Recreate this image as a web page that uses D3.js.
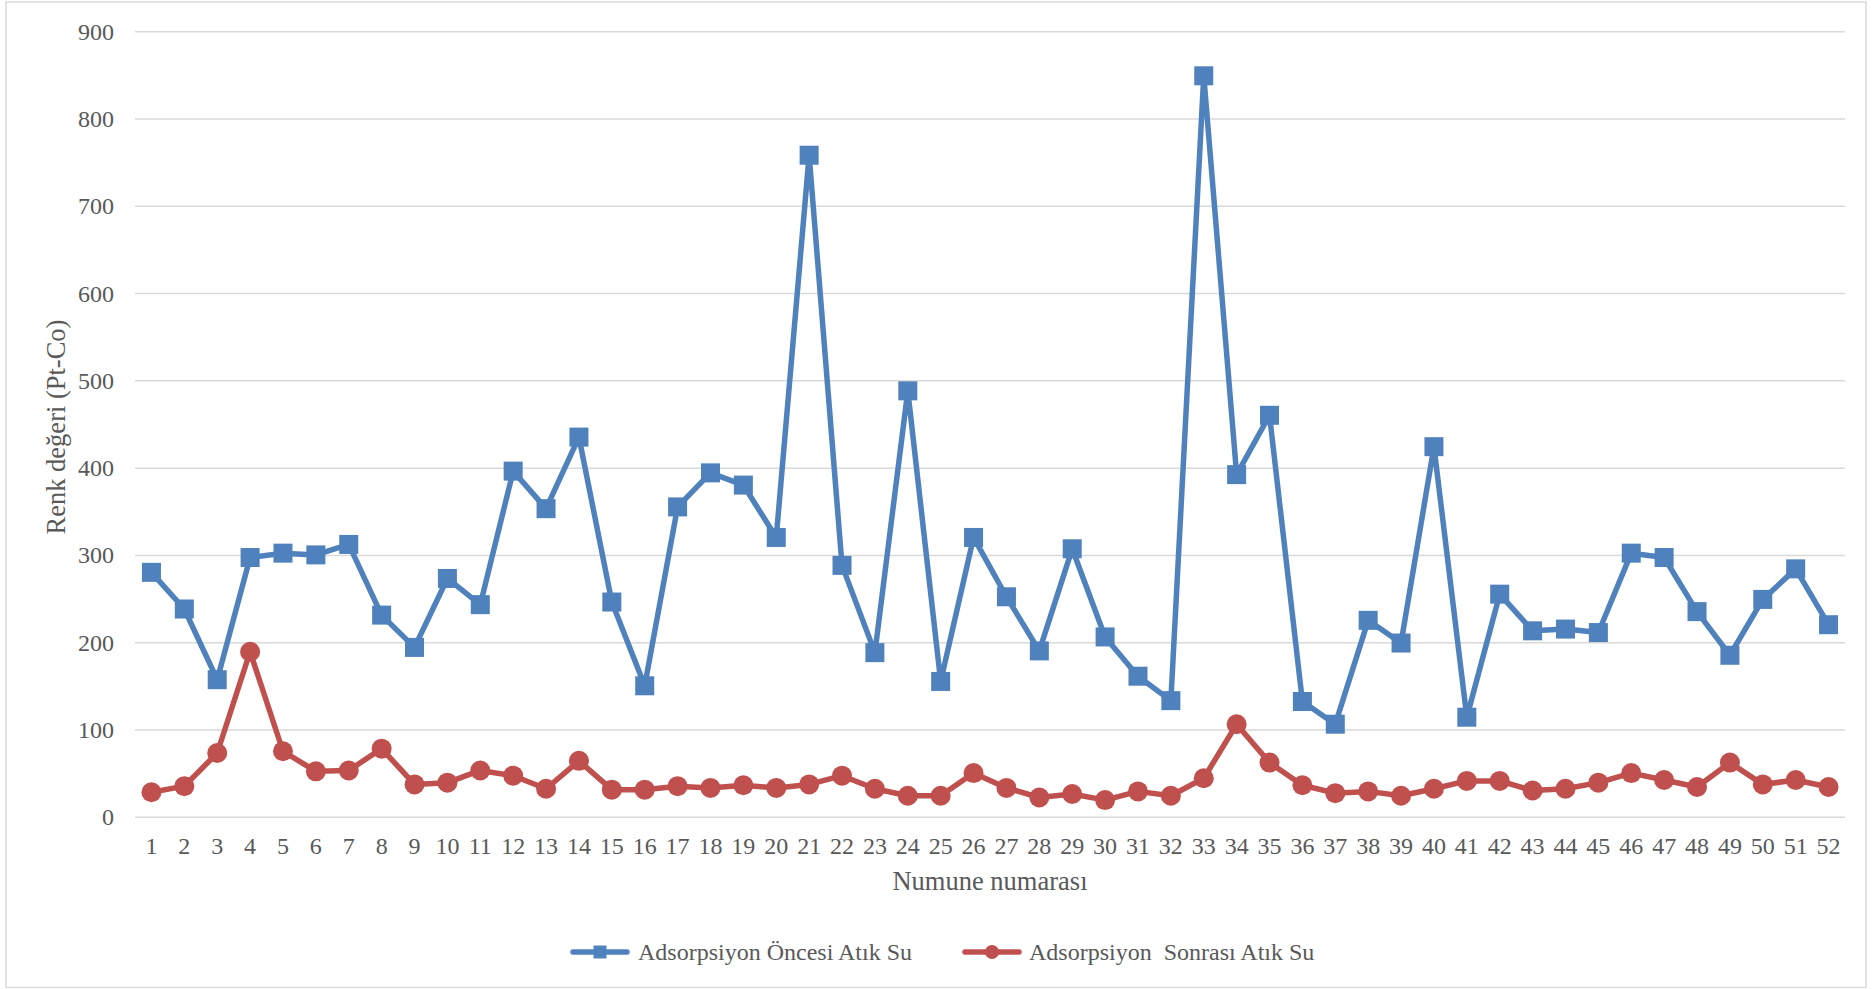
<!DOCTYPE html>
<html>
<head>
<meta charset="utf-8">
<script src="https://cdn.jsdelivr.net/npm/d3@7"></script>
<style>
  html, body { margin: 0; padding: 0; background: #fff; }
  svg text { font-family: "Liberation Serif", "Times New Roman", serif; fill: #595959; }
</style>
</head>
<body>
<svg id="chart" width="1872" height="989"></svg>
<script>
// Sample numbers 1..52
const samples = d3.range(1, 53);

// Colour value (Pt-Co) before adsorption
const before = [280, 238, 157, 297, 302, 300, 312, 231, 194, 273,
                243, 396, 353, 435, 246, 150, 355, 394, 380, 320,
                758, 288, 188, 488, 155, 320, 252, 190, 307, 206,
                161, 133, 849, 392, 460, 132, 106, 225, 199, 424,
                114, 255, 213, 215, 211, 302, 297, 235, 185, 249,
                284, 220];

// Colour value (Pt-Co) after adsorption
const after = [28, 35, 73, 189, 75, 52, 53, 78, 37, 39,
               53, 47, 32, 64, 31, 31, 35, 33, 36, 33,
               37, 47, 32, 24, 24, 50, 33, 22, 26, 19,
               29, 24, 44, 106, 62, 36, 27, 29, 24, 32,
               41, 41, 30, 32, 39, 50, 42, 34, 62, 37,
               42, 34];

const yTicks = [0, 100, 200, 300, 400, 500, 600, 700, 800, 900];
const seriesNames = ["Adsorpsiyon Öncesi Atık Su", "Adsorpsiyon  Sonrası Atık Su"];
const colors = ["#4F81BD", "#C0504D"];
const xTitle = "Numune numarası";
const yTitle = "Renk değeri (Pt-Co)";

const FONT = '"Liberation Serif", "Times New Roman", serif';
const svg = d3.select("#chart");
const plotLeft = 135, plotRight = 1845, plotTop = 31.3, plotBottom = 816.7;

// outer chart frame
svg.append("rect")
  .attr("x", 6).attr("y", 2).attr("width", 1860).attr("height", 985.5)
  .attr("fill", "none").attr("stroke", "#d9d9d9").attr("stroke-width", 1.5);

const x = d3.scaleBand().domain(samples).range([plotLeft, plotRight]);
const y = d3.scaleLinear().domain([0, 900]).range([plotBottom, plotTop]);
const cx = d => x(d) + x.bandwidth() / 2;

// horizontal gridlines + y tick labels
const yAxis = d3.axisLeft(y).tickValues(yTicks).tickSize(-(plotRight - plotLeft)).tickPadding(21);
const gy = svg.append("g").attr("transform", `translate(${plotLeft},0)`).call(yAxis)
  .attr("font-family", FONT).attr("font-size", 24);
gy.select(".domain").remove();
gy.selectAll(".tick line").attr("stroke", "#d9d9d9").attr("stroke-width", 1.5);
gy.selectAll(".tick text").attr("font-family", FONT).attr("font-size", 24)
  .attr("dy", "0.33em").attr("fill", "#595959");

// x tick labels
const xAxis = d3.axisBottom(x).tickSize(0).tickPadding(20);
const gx = svg.append("g").attr("transform", `translate(0,${plotBottom})`).call(xAxis)
  .attr("font-family", FONT).attr("font-size", 24);
gx.select(".domain").remove();
gx.selectAll(".tick text").attr("font-family", FONT).attr("font-size", 24).attr("fill", "#595959");

// axis titles
svg.append("text")
  .attr("x", (plotLeft + plotRight) / 2).attr("y", 890)
  .attr("text-anchor", "middle").attr("font-size", 26.5)
  .text(xTitle);
svg.append("text")
  .attr("transform", "translate(65,427) rotate(-90)")
  .attr("text-anchor", "middle").attr("font-size", 26.5)
  .text(yTitle);

const line = d3.line().x((d, i) => cx(samples[i])).y(d => y(d));

// before-adsorption series: line with square markers
svg.append("path").datum(before)
  .attr("d", line).attr("fill", "none")
  .attr("stroke", colors[0]).attr("stroke-width", 5.5).attr("stroke-linejoin", "round");
const sq = 19;
svg.append("g").selectAll("rect").data(before).join("rect")
  .attr("x", (d, i) => cx(samples[i]) - sq / 2)
  .attr("y", d => y(d) - sq / 2)
  .attr("width", sq).attr("height", sq)
  .attr("fill", colors[0]);

// after-adsorption series: line with circle markers
svg.append("path").datum(after)
  .attr("d", line).attr("fill", "none")
  .attr("stroke", colors[1]).attr("stroke-width", 5.5).attr("stroke-linejoin", "round");
svg.append("g").selectAll("circle").data(after).join("circle")
  .attr("cx", (d, i) => cx(samples[i]))
  .attr("cy", d => y(d))
  .attr("r", 10)
  .attr("fill", colors[1]);

// legend
const legendY = 952;
const legendItems = [
  { x0: 573, textX: 638, marker: "square" },
  { x0: 965, textX: 1029, marker: "circle" }
];
legendItems.forEach((it, i) => {
  const g = svg.append("g");
  g.append("line")
    .attr("x1", it.x0).attr("x2", it.x0 + 54)
    .attr("y1", legendY).attr("y2", legendY)
    .attr("stroke", colors[i]).attr("stroke-width", 5.5).attr("stroke-linecap", "round");
  if (it.marker === "square") {
    g.append("rect")
      .attr("x", it.x0 + 27 - 6.5).attr("y", legendY - 6.5)
      .attr("width", 13).attr("height", 13).attr("fill", colors[i]);
  } else {
    g.append("circle")
      .attr("cx", it.x0 + 27).attr("cy", legendY).attr("r", 7).attr("fill", colors[i]);
  }
  g.append("text")
    .attr("x", it.textX).attr("y", legendY + 8)
    .attr("font-size", 24)
    .style("white-space", "pre")
    .text(seriesNames[i]);
});
</script>
</body>
</html>
